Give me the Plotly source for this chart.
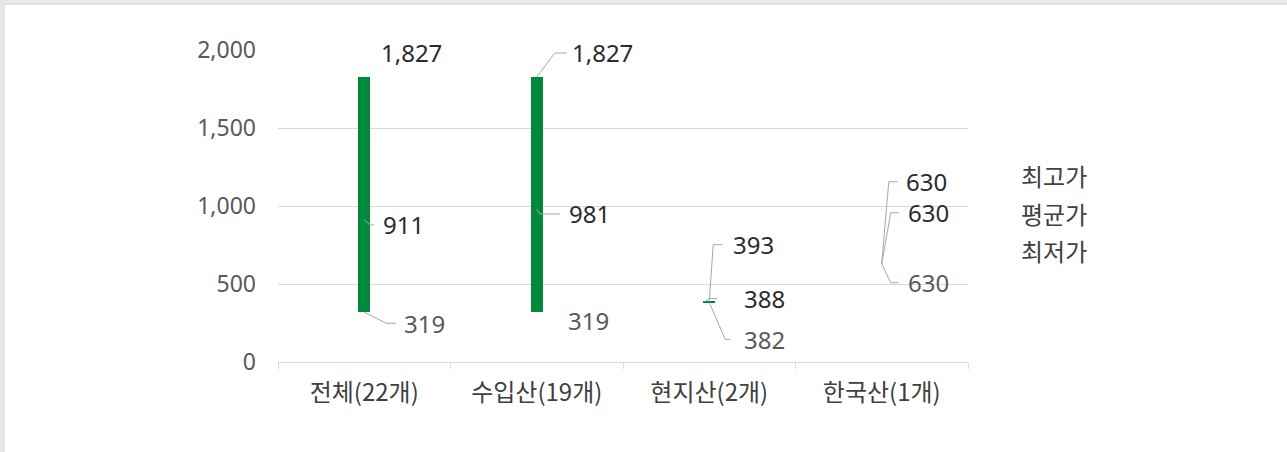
import plotly.graph_objects as go

# data
categories = ['전체(22개)', '수입산(19개)', '현지산(2개)', '한국산(1개)']
max_price = [1827, 1827, 393, 630]
avg_price = [911, 981, 388, 630]
min_price = [319, 319, 382, 630]
series_names = ['최고가', '평균가', '최저가']
y_ticks = [0, 500, 1000, 1500, 2000]

W, H = 1287, 452
ML, MR, MT, MB = 278, 319, 50, 90
PW, PH = W - ML - MR, H - MT - MB

NUM_FONT = 'Noto Sans, Noto Sans CJK KR'
KR_FONT = 'Noto Sans CJK KR'
GREEN = '#00893d'
DARK = '#2b2b2b'
GREY = '#595959'
LEADER = '#a6a6a6'


def px_x(px):
    return (px - ML) / PW


def px_y(py):
    return (H - MB - py) / PH


fig = go.Figure()

# high-low bar from the lowest to the highest price
fig.add_trace(go.Bar(x=categories,
                     y=[hi - lo for hi, lo in zip(max_price, min_price)],
                     base=min_price,
                     width=0.07,
                     marker=dict(color=GREEN, line=dict(width=0)),
                     showlegend=False,
                     hoverinfo='skip'))

# the three series only show up as legend entries
for i, (name, vals) in enumerate(zip(series_names, [max_price, avg_price, min_price])):
    fig.add_trace(go.Scatter(x=categories, y=vals, mode='none', name=name,
                             legendgroup=f'g{i}', showlegend=True))

# label placement in pixels from the point: text dx, text dy (down +),
# leader as (start dx, elbow dx, end dx) or None
label_style = {
    'max': [(15, -24, None), (33, -24, (0, 18, 30)),
            (22, -56, (0, 4, 13)), (22, -82, (0, 7, 16))],
    'avg': [(17, 5, (0, 6, 10)), (30, 5, (0, 3, 23)),
            (33, -3, (-4, 0, 8)), (24, -51, (0, 9, 17))],
    'min': [(38, 11, (0, 22, 32)), (29, 8, None),
            (33, 37, (0, 16, 21)), (24, 19, (0, 9, 17))],
}
label_color = {'max': DARK, 'avg': DARK, 'min': GREY}

for key, vals in [('max', max_price), ('avg', avg_price), ('min', min_price)]:
    for i, (cat, v, (dx, dy, leader)) in enumerate(zip(categories, vals, label_style[key])):
        fig.add_annotation(x=cat, y=v, text=f'{v:,}', showarrow=False,
                           xanchor='left', yanchor='middle',
                           xshift=dx, yshift=-dy,
                           font=dict(family=NUM_FONT, size=24, color=label_color[key]))
        if leader:
            sx, ex, lx = leader
            fig.add_shape(type='path', xref='x', yref='y',
                          xsizemode='pixel', ysizemode='pixel',
                          xanchor=i, yanchor=v,
                          path=f'M{sx},0 L{ex},{-dy} L{lx},{-dy}',
                          line=dict(color=LEADER, width=1))

# grey frame of the original screenshot
fig.add_shape(type='rect', xref='paper', yref='paper',
              x0=px_x(0), x1=px_x(W), y0=px_y(4), y1=px_y(0),
              fillcolor='#ebebeb', line=dict(width=0), layer='below')
fig.add_shape(type='line', xref='paper', yref='paper',
              x0=px_x(0), x1=px_x(W), y0=px_y(4), y1=px_y(4),
              line=dict(color='#c8c8c8', width=1), layer='below')
fig.add_shape(type='rect', xref='paper', yref='paper',
              x0=px_x(0), x1=px_x(5), y0=px_y(H), y1=px_y(0),
              fillcolor='#e6e6e6', line=dict(width=0), layer='below')

fig.update_layout(
    width=W, height=H,
    margin=dict(l=ML, r=MR, t=MT, b=MB),
    paper_bgcolor='white', plot_bgcolor='white',
    font=dict(family=KR_FONT, color=GREY),
    bargap=0,
    legend=dict(x=px_x(981), y=px_y(155), xanchor='left', yanchor='top',
                font=dict(family=KR_FONT, size=24, color='#404040'),
                itemwidth=30, tracegroupgap=3, bgcolor='rgba(0,0,0,0)'),
    xaxis=dict(type='category', tickson='boundaries',
               ticks='outside', ticklen=6, tickcolor='#d9d9d9',
               showline=True, linecolor='#d9d9d9', linewidth=1,
               showgrid=False, ticklabelstandoff=9,
               tickfont=dict(family=KR_FONT, size=24, color='#404040')),
    yaxis=dict(range=[0, 2000], tickvals=y_ticks, tickformat=',',
               showgrid=True, gridcolor='#d9d9d9', gridwidth=1,
               zeroline=False, showline=False, ticks='',
               ticklabelstandoff=21,
               tickfont=dict(family=NUM_FONT, size=23, color=GREY)),
)

fig.write_html('out.html', config={'displayModeBar': False},
               post_script="document.body.style.margin='0';")
